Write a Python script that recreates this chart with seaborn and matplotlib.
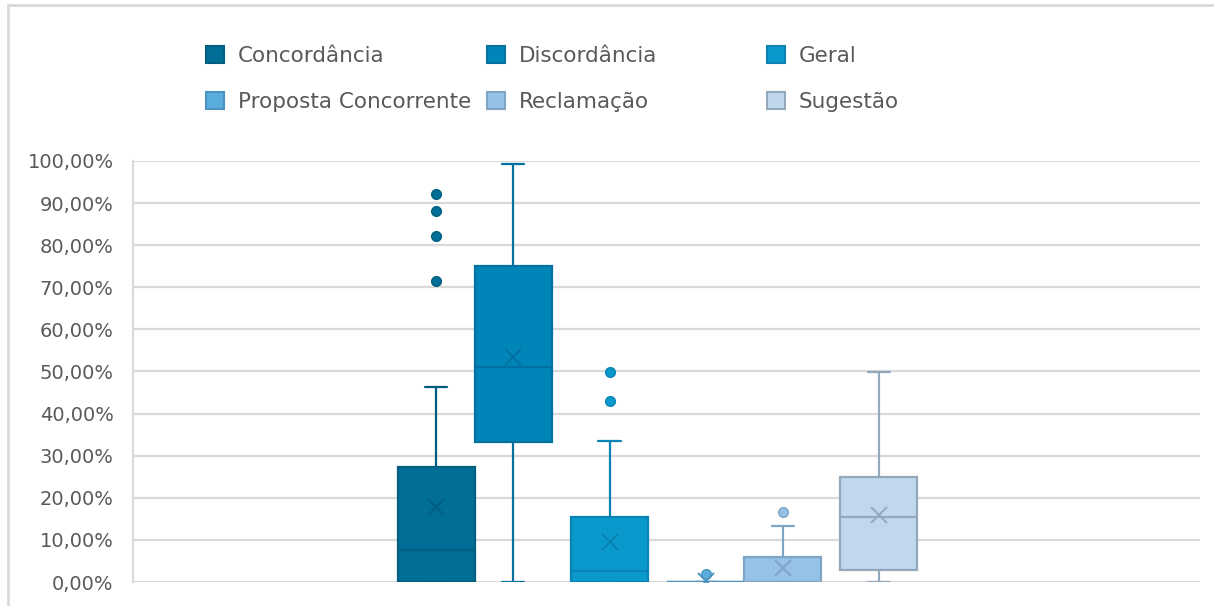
import numpy as np
import seaborn as sns
import matplotlib.pyplot as plt
from matplotlib.patches import Patch
from matplotlib.lines import Line2D
from matplotlib.ticker import FuncFormatter, MultipleLocator

# dados (fração, 0-1)
series = ['Concordância', 'Discordância', 'Geral',
          'Proposta Concorrente', 'Reclamação', 'Sugestão']

concordancia = [0, 0, 0, 0, 0, 0, 0, 0, 0, 0, 0, 0, 0, 0, 0.04, 0.05, 0.077,
                0.077, 0.083, 0.091, 0.1, 0.1, 0.111, 0.115, 0.274,
                0.286, 0.3, 0.333, 0.462, 0.716, 0.823, 0.881, 0.922]
discordancia = [0, 0.2, 0.333, 0.4, 0.511, 0.667, 0.751, 0.95, 0.994]
geral = [0, 0, 0, 0, 0, 0, 0, 0, 0, 0.02, 0.027, 0.03, 0.04, 0.05, 0.063,
         0.155, 0.167, 0.2, 0.334, 0.43, 0.5]
proposta = [0, 0, 0, 0, 0, 0, 0, 0, 0.019]
reclamacao = [0, 0, 0, 0, 0, 0, 0, 0, 0, 0.06, 0.062, 0.134, 0.167]
sugestao = [0, 0, 0.0285, 0.05, 0.155, 0.167, 0.25, 0.28, 0.5]

dados = [concordancia, discordancia, geral, proposta, reclamacao, sugestao]

# layout / estilo
posicoes = [0, 1, 2.25, 3.5, 4.5, 5.75]
cores = ['#006E96', '#0085B8', '#0A99CC', '#5AAEDD', '#95C2E6', '#C0D7EE']
bordas = ['#005F80', '#0071A0', '#0883B3', '#4B93BD', '#7FA4C4', '#94A8BC']
cinza = '#595959'
meia_tampa = 0.145

sns.set_style('white')
plt.rcParams['font.family'] = ['DejaVu Sans']

fig = plt.figure(figsize=(12.14, 6.06), dpi=100)
ax = fig.add_axes([133 / 1214, 24 / 606, 1067 / 1214, 421 / 606])

for nome, valores, pos, cor, borda in zip(series, dados, posicoes, cores, bordas):
    sns.boxplot(x=np.full(len(valores), float(pos)), y=valores, ax=ax,
                orient='x', native_scale=True, width=1, color=cor,
                saturation=1, linecolor=borda, linewidth=1.6,
                showmeans=True,
                meanprops=dict(marker='x', markeredgecolor=borda,
                               markersize=12, markeredgewidth=1.4),
                flierprops=dict(marker='o', markerfacecolor=cor,
                                markeredgecolor=borda, markersize=7),
                zorder=3)

# tampas dos bigodes mais curtas, como no Excel
for linha in ax.lines:
    xs, ys = linha.get_data()
    if len(xs) == 2 and ys[0] == ys[1] and 0 < abs(xs[1] - xs[0]) < 0.9:
        c = (xs[0] + xs[1]) / 2
        linha.set_xdata([c - meia_tampa, c + meia_tampa])

ax.set_xlim(-3.94, 9.92)
ax.set_ylim(0, 1)
ax.set_xticks([])
ax.set_xlabel('')
ax.set_ylabel('')
ax.yaxis.set_major_locator(MultipleLocator(0.1))
ax.yaxis.set_major_formatter(FuncFormatter(lambda v, p: f'{v * 100:.2f}%'.replace('.', ',')))
ax.tick_params(axis='y', length=0, pad=14, labelsize=14, labelcolor=cinza)
ax.grid(axis='y', color='#D9D9D9', linewidth=1.6)
ax.set_axisbelow(True)
for lado in ['top', 'right', 'bottom']:
    ax.spines[lado].set_visible(False)
ax.spines['left'].set_color('#D9D9D9')
ax.spines['left'].set_linewidth(1.5)

# legenda em três colunas
handles = [Patch(facecolor=c, edgecolor=b, linewidth=1.5) for c, b in zip(cores, bordas)]
col_x = [206, 487, 767]
for j in range(3):
    fig.legend(handles=[handles[j], handles[j + 3]], labels=[series[j], series[j + 3]],
               loc='upper left', bbox_to_anchor=(col_x[j] / 1214, 1 - 46 / 606),
               frameon=False, fontsize=15.5, labelcolor=cinza, borderpad=0,
               handlelength=0.83, handleheight=0.83, handletextpad=0.65,
               labelspacing=1.2, borderaxespad=0)

# borda do gráfico
fig.add_artist(Line2D([8 / 1214, 8 / 1214], [0, 1 - 5 / 606], color='#D9D9D9', linewidth=2))
fig.add_artist(Line2D([8 / 1214, 1], [1 - 5 / 606, 1 - 5 / 606], color='#D9D9D9', linewidth=2))

fig.savefig('out.png', dpi=100)
